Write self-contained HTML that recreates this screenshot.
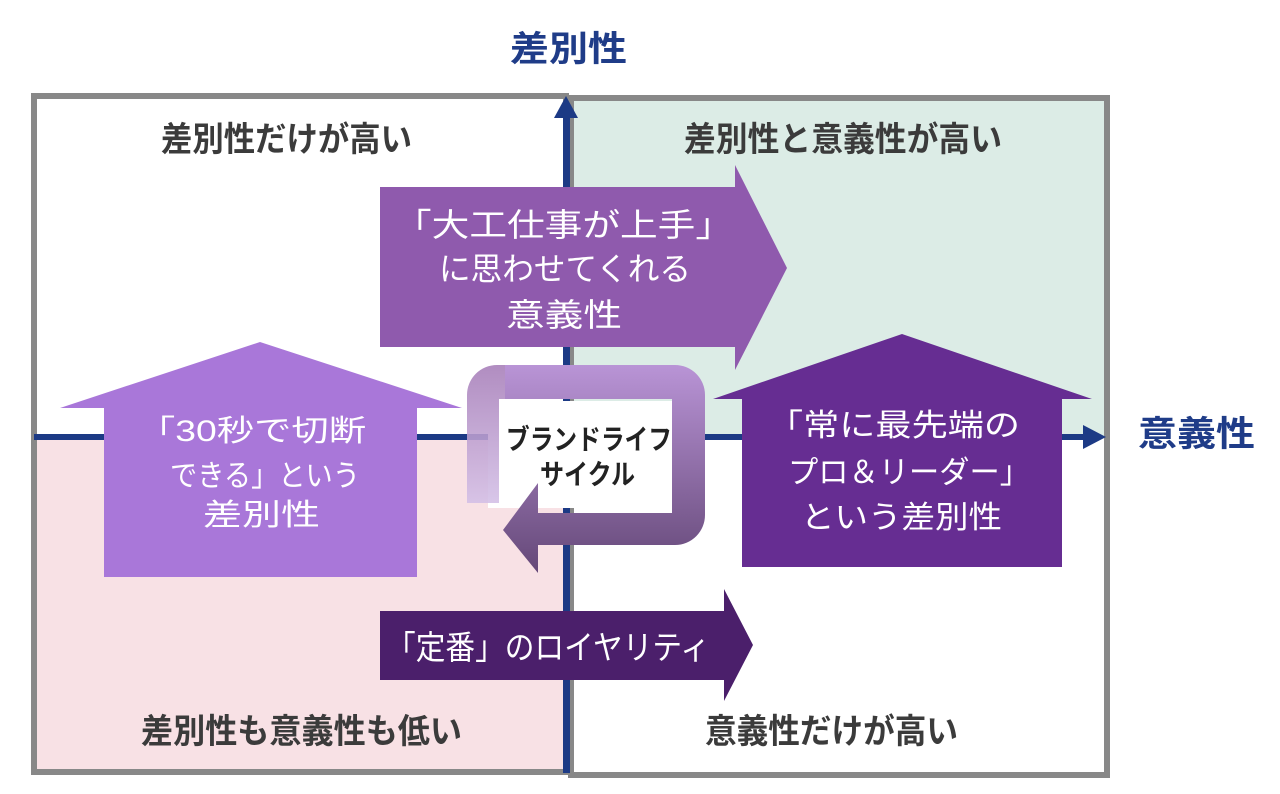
<!DOCTYPE html>
<html><head><meta charset="utf-8">
<style>
html,body{margin:0;padding:0;background:#fff;}
svg{display:block;}
text{font-family:"Liberation Sans","Noto Sans CJK JP",sans-serif;}
</style></head><body>
<svg width="1280" height="794" viewBox="0 0 1280 794" xmlns="http://www.w3.org/2000/svg">
<defs>
<linearGradient id="cyc" x1="0" y1="365" x2="0" y2="573" gradientUnits="userSpaceOnUse">
<stop offset="0" stop-color="#b994d6"/>
<stop offset="1" stop-color="#654878"/>
</linearGradient>
<linearGradient id="tail" x1="0" y1="365" x2="0" y2="503" gradientUnits="userSpaceOnUse">
<stop offset="0" stop-color="#a67db8"/>
<stop offset="1" stop-color="#d3bfe6"/>
</linearGradient>
</defs>

<!-- quadrant backgrounds -->
<rect x="34" y="96" width="532" height="341" fill="#ffffff"/>
<rect x="34" y="437" width="532" height="335" fill="#f8e1e5"/>
<rect x="568" y="98" width="539" height="339" fill="#dcece6"/>
<rect x="568" y="437" width="539" height="338" fill="#ffffff"/>

<!-- frames -->
<rect x="34" y="96" width="532" height="676" fill="none" stroke="#888888" stroke-width="6"/>
<rect x="571" y="98" width="536" height="677" fill="none" stroke="#888888" stroke-width="6"/>

<!-- axes -->
<rect x="563" y="116" width="7" height="657" fill="#1c3a85"/>
<polygon points="554,118 578,118 566,96" fill="#1c3a85"/>
<rect x="34" y="434" width="1052" height="6" fill="#1c3a85"/>
<polygon points="1083,425 1083,449 1106,437" fill="#1c3a85"/>

<!-- axis labels -->
<text x="510" y="61" font-size="35" font-weight="bold" fill="#1f3c88" textLength="117" lengthAdjust="spacingAndGlyphs">差別性</text>
<text x="1138" y="446" font-size="35" font-weight="bold" fill="#1f3c88" textLength="117" lengthAdjust="spacingAndGlyphs">意義性</text>

<!-- quadrant labels -->
<text x="161" y="151" font-size="34" font-weight="bold" fill="#3b3b3b" textLength="251" lengthAdjust="spacingAndGlyphs">差別性だけが高い</text>
<text x="684" y="151" font-size="34" font-weight="bold" fill="#3b3b3b" textLength="318" lengthAdjust="spacingAndGlyphs">差別性と意義性が高い</text>
<text x="141" y="743" font-size="34" font-weight="bold" fill="#3b3b3b" textLength="321" lengthAdjust="spacingAndGlyphs">差別性も意義性も低い</text>
<text x="705" y="743" font-size="34" font-weight="bold" fill="#3b3b3b" textLength="253" lengthAdjust="spacingAndGlyphs">意義性だけが高い</text>

<!-- cycle inner white box -->
<rect x="488" y="401" width="184" height="107" fill="#ffffff"/>

<!-- big right arrow -->
<polygon points="380,187 735,187 735,165 787,268 735,370 735,347 380,347" fill="#8f5aad"/>
<text x="394" y="236" font-size="32" fill="#ffffff" textLength="339" lengthAdjust="spacingAndGlyphs">「大工仕事が上手」</text>
<text x="439" y="280" font-size="32" fill="#ffffff" textLength="252" lengthAdjust="spacingAndGlyphs">に思わせてくれる</text>
<text x="506" y="326" font-size="32" fill="#ffffff" textLength="116" lengthAdjust="spacingAndGlyphs">意義性</text>

<!-- left up arrow -->
<polygon points="104,577 104,408 60,408 260,342 462,408 417,408 417,577" fill="#a977d9"/>
<text x="138" y="441" font-size="30" fill="#ffffff" textLength="228" lengthAdjust="spacingAndGlyphs">「30秒で切断</text>
<text x="170" y="486" font-size="30" fill="#ffffff" textLength="190" lengthAdjust="spacingAndGlyphs">できる」という</text>
<text x="203" y="525" font-size="30" fill="#ffffff" textLength="117" lengthAdjust="spacingAndGlyphs">差別性</text>

<!-- right up arrow -->
<polygon points="742,567 742,399 713,399 902,334 1092,399 1062,399 1062,567" fill="#662d92"/>
<text x="767" y="436" font-size="31" fill="#ffffff" textLength="253" lengthAdjust="spacingAndGlyphs">「常に最先端の</text>
<text x="788" y="483" font-size="31" fill="#ffffff" textLength="242" lengthAdjust="spacingAndGlyphs">プロ＆リーダー」</text>
<text x="801" y="528" font-size="31" fill="#ffffff" textLength="201" lengthAdjust="spacingAndGlyphs">という差別性</text>

<!-- bottom arrow -->
<polygon points="380,611 724,611 724,589 753,645 724,701 724,680 380,680" fill="#4b1f6b"/>
<text x="386" y="659" font-size="33" fill="#ffffff" textLength="324" lengthAdjust="spacingAndGlyphs">「定番」のロイヤリティ</text>

<!-- brand life cycle loop -->
<path d="M505,365 H675 A30,30 0 0 1 705,395 V515 A30,30 0 0 1 675,545 H538 V573 L503,530 L538,483 V513 H672 V399 H505 Z" fill="url(#cyc)"/>
<path d="M505,365 H497 A30,30 0 0 0 467,395 V503 H499 V399 H505 Z" fill="url(#tail)" fill-opacity="0.88"/>
<text x="506" y="449" font-size="28" font-weight="bold" fill="#222222" textLength="166" lengthAdjust="spacingAndGlyphs">ブランドライフ</text>
<text x="540" y="484" font-size="28" font-weight="bold" fill="#222222" textLength="95" lengthAdjust="spacingAndGlyphs">サイクル</text>
</svg>
</body></html>
